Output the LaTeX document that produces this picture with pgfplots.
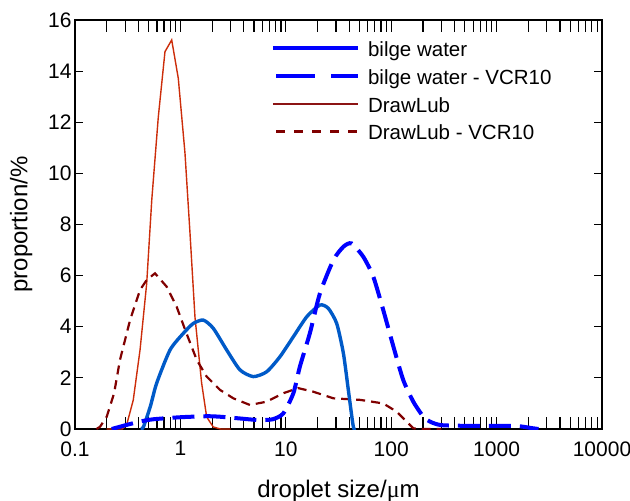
\documentclass[border=0pt]{standalone}
\usepackage{fontspec}
\setmainfont{Liberation Sans}
\newfontfamily\serifmu{Liberation Serif}
\usepackage{pgfplots}
\pgfplotsset{compat=1.18}
\definecolor{bwsolid}{RGB}{0,90,200}
\definecolor{bwdash}{RGB}{0,0,255}
\definecolor{dlsolid}{RGB}{204,45,10}
\definecolor{dlleg}{RGB}{140,20,20}
\definecolor{dldash}{RGB}{128,0,0}
\begin{document}
\begin{tikzpicture}
\begin{axis}[name=ax, scale only axis, width=527pt, height=409pt,
  xmode=log, xmin=0.1, xmax=10000, ymin=0, ymax=16,
  xtick={0.1,1,10,100,1000,10000},
  xticklabels={0.1,1,10,100,1000,10000},
  minor xtick={0.2,0.3,0.4,0.5,0.6,0.7,0.8,0.9,1,2,3,4,5,6,7,8,9,10,20,30,40,50,60,70,80,90,100,200,300,400,500,600,700,800,900,1000,2000,3000,4000,5000,6000,7000,8000,9000},
  ytick={0,2,...,16},
  major tick length=8pt, minor tick length=12pt,
  tick align=inside,
  axis line style={line width=1.6pt},
  every tick/.style={black, line width=1.2pt},
  tick label style={font=\fontsize{21}{21}\selectfont},
  /pgf/number format/assume math mode=true,
  xticklabel style={yshift=-9pt},
  label style={font=\fontsize{24}{24}\selectfont},
  xlabel={droplet size/{\serifmu μ}m},
  ylabel={proportion/\%},
  xlabel style={at={(axis description cs:0.5,-0.1663)}, anchor=base},
  ylabel style={at={(axis description cs:-0.0905,0.5)}, anchor=base},
  legend style={draw=none, fill=none, at={(0.3713,0.947)}, anchor=north west,
    font=\fontsize{20.5}{20.5}\selectfont, inner sep=0pt, row sep=8.7pt,
    nodes={inner sep=0pt, text height=15pt, text depth=4pt}},
  legend cell align=left,
]
% DrawLub
\addplot[forget plot, color=dlsolid, line width=1.4pt] coordinates {
(0.2,0) (0.28,0) (0.309,0.16) (0.357,1.13) (0.414,3.09) (0.479,5.7) (0.535,8.96) (0.617,12.2) (0.714,14.76) (0.827,15.22) (0.955,13.72) (1.105,10.8) (1.233,7.67) (1.375,4.38) (1.59,1.8) (1.776,0.47) (2.05,0.08) (2.4,0) (3,0)};
% DrawLub - VCR10
\addplot[forget plot, color=dldash, line width=2.2pt, dash pattern=on 9pt off 6pt] coordinates {
(0.16,0) (0.173,0.09) (0.2,0.48) (0.235,1.4) (0.267,2.7) (0.333,4.26) (0.414,5.44) (0.479,5.83) (0.574,6.09) (0.74,5.57) (0.922,4.78) (1.14,3.75) (1.43,2.7) (1.776,2.05) (2.376,1.53) (3.18,1.2) (4.57,0.94) (6.59,1.07) (9.47,1.4) (13.1,1.6) (18.2,1.46) (28.3,1.2) (50.6,1.14) (84,1.0) (112.6,0.68) (140,0.29) (162,0.03) (180,0) (300,0)};
% bilge water
\addplot[forget plot, color=bwsolid, line width=3.4pt, smooth, tension=0.4] coordinates {
(0.42,0) (0.445,0.07) (0.52,0.9) (0.595,1.79) (0.797,3.09) (1.065,3.74) (1.326,4.13) (1.65,4.26) (2.05,3.94) (2.75,3.09) (3.68,2.31) (4.92,2.05) (6.59,2.24) (8.81,2.83) (11.8,3.61) (15.8,4.39) (21.1,4.85) (25.3,4.72) (30.4,4.13) (35.2,2.96) (39.2,1.53) (43.7,0.09) (46,0)};
% bilge water - VCR10
\addplot[forget plot, color=bwdash, line width=4pt, dash pattern=on 22pt off 9pt, smooth, tension=0.4] coordinates {
(0.223,0) (0.309,0.16) (0.414,0.29) (0.55,0.38) (1.0,0.46) (1.776,0.5) (2.376,0.48) (3.5,0.42) (5.5,0.35) (7.5,0.38) (9.47,0.61) (11.8,1.4) (13.6,2.44) (16.9,3.74) (21.1,5.31) (28.3,6.61) (35.2,7.13) (42,7.26) (54.3,6.74) (67.6,5.96) (84,4.66) (105,3.22) (130,1.92) (162,1.07) (202,0.48) (233,0.29) (300,0.15) (600,0.12) (1000,0.12) (1550,0.12) (2200,0.03) (2500,0)};
\addlegendimage{legend image code/.code={\draw[line width=4pt, color=bwdash] (0pt,0.3em) -- (85pt,0.3em); \path (95pt,0.3em);}}
\addlegendentry{bilge water}
\addlegendimage{legend image code/.code={\draw[line width=4pt, color=bwdash, dash pattern=on 39pt off 16pt] (3.5pt,0.3em) -- (85pt,0.3em); \path (95pt,0.3em);}}
\addlegendentry{bilge water - VCR10}
\addlegendimage{legend image code/.code={\draw[line width=1.6pt, color=dlleg] (0pt,0.3em) -- (85pt,0.3em); \path (95pt,0.3em);}}
\addlegendentry{DrawLub}
\addlegendimage{legend image code/.code={\draw[line width=2.2pt, color=dldash, dash pattern=on 9pt off 9pt] (3.5pt,0.3em) -- (85pt,0.3em); \path (95pt,0.3em);}}
\addlegendentry{DrawLub - VCR10}
\end{axis}
\pgfresetboundingbox
\path[use as bounding box] ([shift={(-75pt,-72pt)}]ax.south west) rectangle ([shift={(28pt,20pt)}]ax.north east);
\end{tikzpicture}
\end{document}
